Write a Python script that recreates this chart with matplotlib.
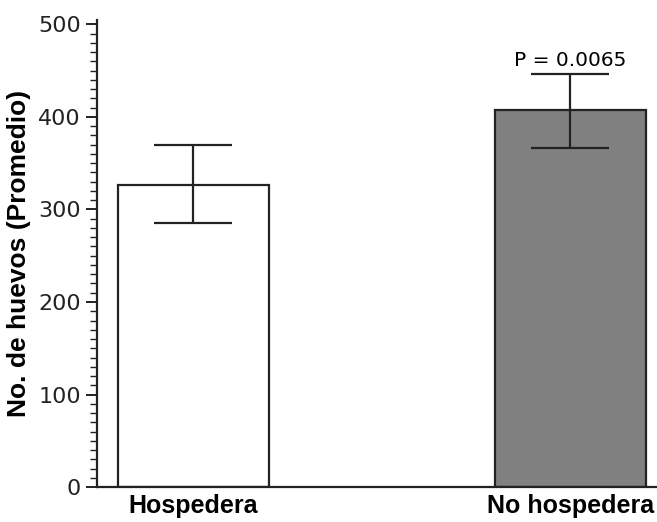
import matplotlib.pyplot as plt
from matplotlib.ticker import MultipleLocator

categories = ["Hospedera", "No hospedera"]
means = [327, 407]
err_low = [285, 366]
err_high = [370, 446]
colors = ["white", "#808080"]
p_label = "P = 0.0065"

fig = plt.figure(figsize=(6.57, 5.22), dpi=100)
ax = fig.add_axes([0.1476, 0.067, 0.8524, 0.895])

x = list(range(len(categories)))
yerr = [[m - lo for m, lo in zip(means, err_low)],
        [hi - m for m, hi in zip(means, err_high)]]
ax.bar(x, means, width=0.4, color=colors, edgecolor="#222222", linewidth=1.6, zorder=2)
ax.errorbar(x, means, yerr=yerr, fmt="none", ecolor="#222222", elinewidth=1.6,
            capsize=28, capthick=1.6, zorder=3)

ax.text(x[1], err_high[1] + 5, p_label, ha="center", va="bottom", fontsize=14.5,
        family="DejaVu Sans")

ax.set_xlim(-0.255, 1.23)
ax.set_ylim(0, 505)
ax.spines["top"].set_visible(False)
ax.spines["right"].set_visible(False)
for s in ["left", "bottom"]:
    ax.spines[s].set_linewidth(1.6)
    ax.spines[s].set_color("#222222")

ax.yaxis.set_major_locator(MultipleLocator(100))
ax.yaxis.set_minor_locator(MultipleLocator(10))
ax.tick_params(axis="y", which="major", length=8, width=1.4, labelsize=16, colors="#222222")
ax.tick_params(axis="y", which="minor", length=5, width=1.0, colors="#222222")
ax.set_xticks(x)
ax.set_xticklabels(categories, fontsize=18, fontweight="bold", family="Liberation Sans")
ax.tick_params(axis="x", length=0, pad=5)

ax.set_ylabel("No. de huevos (Promedio)", fontsize=19, fontweight="bold",
              family="Liberation Sans", labelpad=5)

fig.savefig("out.png", dpi=100)
